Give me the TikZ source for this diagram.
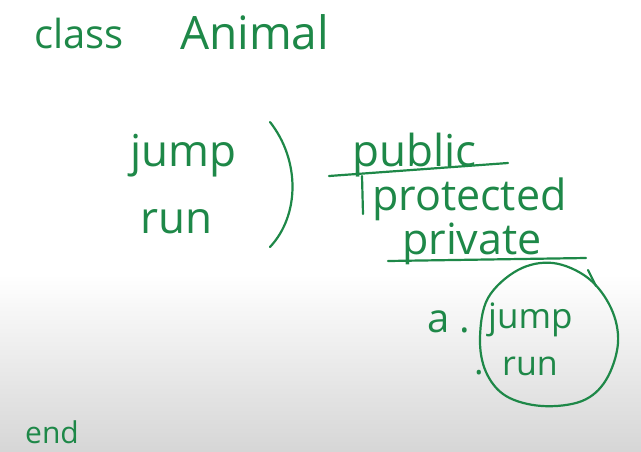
\documentclass[tikz,border=0pt]{standalone}
\usepackage{fontspec}
\setmainfont{Open Sans}
\definecolor{hand}{RGB}{30,136,72}
\begin{document}
\begin{tikzpicture}[x=1pt,y=-1pt,
  txt/.style={anchor=base west,inner sep=0pt,text=hand},
  ink/.style={draw=hand,line width=2.2pt,line cap=round,line join=round}]
\useasboundingbox (0,0) rectangle (641,451);
\fill[white] (0,0) rectangle (641,275);
\shade[top color=white,bottom color=black!16] (0,274) rectangle (641,451);
% title
\node[txt,font=\fontsize{40}{42}\selectfont] (cls) at (34,48) {class};
\node[txt,font=\fontsize{46}{48}\selectfont] (ani) at (180,49) {Animal};
% methods
\node[txt,font=\fontsize{44}{46}\selectfont] (jump1) at (130,166) {jump};
\node[txt,font=\fontsize{44}{46}\selectfont] (run1) at (140,233) {run};
% bracket
\coordinate (bt) at (270,122);
\coordinate (bb) at (270,247);
\draw[ink] (bt) .. controls (300,160) and (300,215) .. (bb);
% access levels
\node[txt,font=\fontsize{44}{46}\selectfont] (pub) at (352,166) {public};
\node[txt,font=\fontsize{43}{45}\selectfont] (prot) at (372,210) {protected};
\node[txt,font=\fontsize{43}{45}\selectfont] (priv) at (402,254) {private};
\coordinate (u1a) at (329,176);
\coordinate (u1b) at (508,163);
\draw[ink] (u1a) -- (u1b);
\coordinate (v1a) at (362,176);
\coordinate (v1b) at (363,214);
\draw[ink] (v1a) -- (v1b);
\coordinate (u2a) at (388,261);
\coordinate (u2b) at (586,258);
\draw[ink] (u2a) -- (u2b);
% call
\node[txt,font=\fontsize{40}{42}\selectfont] (acall) at (427,332) {a\hspace{10pt}.};
\node[txt,font=\fontsize{35}{37}\selectfont] (jump2) at (488,328) {jump};
\node[txt,font=\fontsize{36}{38}\selectfont] (dot2) at (474,374) {.};
\node[txt,font=\fontsize{34}{36}\selectfont] (run2) at (502,375) {run};
% circle
\draw[ink] plot[smooth cycle,tension=0.6] coordinates {(488,298) (518,270) (553,263) (588,278) (611,308) (618,343) (606,380) (582,401) (542,406) (506,396) (486,372) (480,338)};
\coordinate (ta) at (588,270);
\coordinate (tb) at (596,286);
\draw[ink] (ta) -- (tb);
% end
\node[txt,font=\fontsize{30}{32}\selectfont] (endk) at (25,443) {end};
\end{tikzpicture}
\end{document}
